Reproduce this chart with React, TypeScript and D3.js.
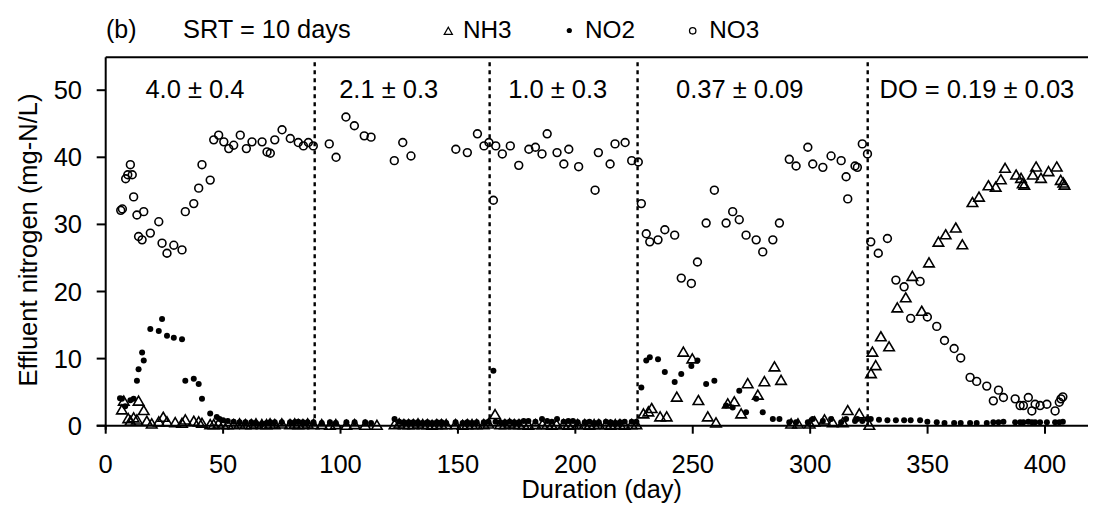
import React from "react";
import * as d3 from "d3";

type Pt = [number, number];

const xTicks = [0, 50, 100, 150, 200, 250, 300, 350, 400];
const yTicks = [0, 10, 20, 30, 40, 50];
const phaseBounds = [89, 163.5, 226.5, 324.5];
const phaseLabels = ["4.0 \u00b1 0.4", "2.1 \u00b1 0.3", "1.0 \u00b1 0.3", "0.37 \u00b1 0.09", "DO = 0.19 \u00b1 0.03"];
const phaseLabelDays = [38, 120.5, 192.5, 270, 371];
const legendNames = ["NH3", "NO2", "NO3"];

const no3Data: Pt[] = [
  [6.4, 32.1], [7.1, 32.3], [8.5, 36.8], [9.4, 37.4], [10.5, 38.9], [11.3, 37.4], [11.9, 34.1], [13.3, 31.4],
  [14.0, 28.2], [15.5, 27.7], [16.2, 31.9], [19.0, 28.7], [22.6, 30.4], [24.0, 27.2], [26.1, 25.7], [29.0, 26.9],
  [32.5, 26.2], [33.9, 31.9], [37.5, 33.1], [39.6, 35.4], [41.0, 38.9], [44.5, 36.6], [46.0, 42.6], [48.1, 43.3],
  [50.3, 42.3], [52.4, 41.3], [54.5, 41.8], [57.3, 43.3], [59.9, 41.3], [62.3, 42.3], [66.6, 42.3], [68.7, 40.8],
  [70.1, 40.6], [72.0, 42.6], [75.1, 44.1], [78.6, 42.8], [82.0, 42.2], [84.2, 41.7], [86.3, 42.2], [88.4, 41.7],
  [95.2, 42.0], [98.1, 40.0], [102.3, 46.0], [105.9, 44.7], [110.1, 43.2], [113.0, 43.0], [122.9, 39.5], [126.5, 42.2],
  [130.0, 40.2], [149.1, 41.2], [154.0, 40.7], [158.3, 43.5], [161.1, 41.7], [163.2, 42.2], [165.1, 33.6], [166.1, 41.7],
  [168.9, 40.5], [172.3, 41.7], [175.9, 38.8], [180.2, 41.2], [183.0, 41.5], [185.8, 40.5], [188.0, 43.5], [192.2, 40.7],
  [195.1, 39.0], [197.2, 41.2], [201.4, 38.6], [208.4, 35.1], [209.8, 40.7], [214.8, 39.0], [216.9, 42.0], [221.2, 42.2],
  [224.0, 39.5], [226.8, 39.3], [228.1, 33.1], [230.2, 28.6], [231.7, 27.4], [235.2, 27.7], [238.1, 29.2], [242.3, 28.4],
  [245.1, 22.0], [249.4, 21.2], [252.0, 24.4], [255.7, 30.2], [259.2, 35.1], [264.2, 30.2], [267.0, 31.9], [269.8, 30.7],
  [272.7, 28.4], [277.0, 27.7], [279.8, 25.9], [284.1, 27.7], [286.9, 30.2], [291.1, 39.7], [294.0, 38.7], [299.0, 41.5],
  [301.1, 39.0], [305.4, 38.5], [308.9, 40.2], [313.2, 39.5], [315.3, 37.1], [316.0, 33.8], [319.1, 38.7], [320.1, 38.5],
  [322.2, 42.0], [324.4, 40.5], [325.8, 27.4], [329.0, 25.7], [332.9, 27.9], [336.5, 21.7], [340.0, 20.7], [342.8, 16.0],
  [346.8, 21.5], [349.9, 16.2], [353.9, 14.8], [357.2, 12.7], [361.3, 11.5], [364.1, 10.1], [368.1, 7.2], [370.9, 6.6],
  [375.2, 5.9], [378.0, 3.7], [380.2, 5.3], [382.3, 4.2], [387.3, 4.0], [389.4, 3.0], [390.8, 3.0], [392.9, 4.2],
  [394.4, 2.2], [395.8, 3.2], [397.9, 3.0], [400.8, 3.2], [404.3, 2.2], [406.1, 3.5], [406.8, 4.0], [407.6, 4.3],
];

const no2Data: Pt[] = [
  [6.1, 4.1], [6.9, 4.0], [8.3, 2.9], [10.5, 3.8], [11.9, 4.0], [13.3, 6.7], [14.0, 8.4], [15.5, 10.9],
  [16.2, 9.7], [19.0, 14.4], [22.6, 14.1], [24.0, 15.9], [26.1, 13.4], [29.0, 13.1], [32.5, 12.9], [33.9, 6.7],
  [37.5, 7.0], [39.6, 6.2], [41.0, 4.0], [44.5, 1.8], [47.3, 1.3], [48.5, 1.0], [50.0, 0.8], [52.0, 0.7],
  [54.5, 0.6], [57.0, 0.5], [59.5, 0.5], [62.0, 0.5], [64.0, 0.4], [66.5, 0.3], [68.5, 0.4], [70.0, 0.5],
  [72.0, 0.5], [75.0, 0.5], [78.5, 0.5], [80.5, 0.5], [82.0, 0.6], [84.0, 0.5], [86.0, 0.5], [88.5, 0.5],
  [92.0, 0.4], [95.5, 0.5], [98.0, 0.4], [102.5, 0.5], [106.0, 0.5], [110.5, 0.5], [113.0, 0.4],
  [123.0, 1.0], [125.0, 0.6], [127.0, 0.5], [129.0, 0.5], [131.0, 0.5], [133.0, 0.5], [135.0, 0.4], [137.0, 0.5],
  [139.0, 0.4], [141.0, 0.5], [143.0, 0.5], [145.0, 0.4], [149.0, 0.5], [152.0, 0.4], [154.0, 0.5], [156.0, 0.4],
  [158.0, 0.5], [161.0, 0.5], [163.0, 0.6], [165.1, 8.2], [166.0, 0.6], [168.0, 0.5], [170.0, 0.5], [172.0, 0.6],
  [174.0, 0.5], [176.0, 0.5], [178.0, 0.7], [180.0, 0.7], [183.0, 0.6], [185.8, 1.0], [188.0, 0.7], [190.0, 0.6],
  [192.2, 1.0], [195.0, 0.6], [197.0, 0.7], [199.0, 0.7], [201.0, 0.5], [204.0, 0.5], [206.0, 0.6], [208.0, 0.4],
  [210.0, 0.5], [213.0, 0.6], [215.0, 0.5], [217.0, 0.4], [219.0, 0.5], [221.0, 0.6], [224.0, 0.6], [226.0, 0.6],
  [228.1, 5.7], [230.2, 9.7], [231.7, 10.2], [235.2, 9.9], [238.1, 8.0], [242.3, 6.5], [245.1, 7.7], [249.4, 8.9],
  [252.0, 9.7], [255.7, 6.2], [259.2, 6.7], [264.2, 3.0], [267.0, 2.7], [269.8, 5.2], [272.7, 2.0], [277.0, 4.0],
  [279.8, 2.0], [284.1, 1.0], [286.9, 1.0], [291.1, 0.5], [294.0, 0.5], [299.0, 0.5], [301.1, 1.0], [305.4, 0.7],
  [308.9, 1.0], [313.2, 0.5], [315.3, 1.0], [319.1, 0.7], [320.1, 1.0], [322.2, 0.7], [324.4, 1.0], [325.8, 1.0],
  [329.3, 0.9], [332.9, 0.8], [336.5, 0.8], [340.0, 0.8], [342.8, 0.8], [346.8, 0.8], [349.9, 0.6], [353.9, 0.5],
  [357.2, 0.4], [361.3, 0.4], [364.1, 0.4], [368.1, 0.4], [370.9, 0.4], [375.2, 0.4], [378.0, 0.5], [380.2, 0.5],
  [382.3, 0.6], [387.3, 0.5], [389.4, 0.5], [390.8, 0.5], [392.9, 0.6], [394.4, 0.5], [395.8, 0.5], [397.9, 0.5],
  [400.8, 0.5], [404.3, 0.5], [406.1, 0.5], [407.6, 0.6],
];

const nh3Data: Pt[] = [
  [6.9, 2.3], [7.7, 3.6], [9.6, 1.0], [10.5, 0.6], [11.9, 1.1], [13.3, 0.8], [14.0, 3.6], [16.2, 2.2],
  [17.5, 0.6], [19.6, 0.2], [22.6, 0.5], [24.5, 1.2], [26.1, 0.5], [29.6, 0.4], [32.5, 0.3], [33.9, 0.8],
  [37.5, 0.6], [39.6, 0.5], [41.0, 0.3], [44.5, 0.1], [46.0, 0.1], [48.0, 0.2], [50.0, 0.1], [52.0, 0.1],
  [54.5, 0.1], [57.0, 0.2], [59.5, 0.1], [62.0, 0.1], [64.0, 0.2], [66.5, 0.1], [68.5, 0.1], [70.0, 0.2],
  [72.0, 0.1], [75.0, 0.2], [78.5, 0.1], [80.5, 0.2], [82.0, 0.1], [84.0, 0.1], [86.0, 0.2], [88.5, 0.1],
  [92.0, 0.1], [95.5, 0.0], [98.0, 0.1], [102.5, 0.0], [106.0, 0.1], [110.5, 0.0], [115.5, 0.0],
  [123.0, 0.1], [125.0, 0.2], [127.0, 0.1], [129.0, 0.1], [131.0, 0.1], [133.0, 0.2], [135.0, 0.1], [137.0, 0.1],
  [139.0, 0.0], [141.0, 0.1], [143.0, 0.1], [145.0, 0.1], [149.0, 0.1], [152.0, 0.0], [154.0, 0.1], [156.0, 0.1],
  [158.0, 0.1], [161.0, 0.1], [163.0, 0.2], [165.8, 1.6], [168.0, 0.1], [170.0, 0.1], [172.0, 0.2], [174.0, 0.1],
  [176.0, 0.1], [178.0, 0.1], [180.0, 0.0], [183.0, 0.1], [186.0, 0.1], [188.0, 0.1], [190.0, 0.0], [192.0, 0.1],
  [195.0, 0.1], [197.0, 0.0], [199.0, 0.1], [201.0, 0.1], [204.0, 0.1], [206.0, 0.0], [208.0, 0.1], [210.0, 0.1],
  [213.0, 0.1], [215.0, 0.0], [217.0, 0.1], [219.0, 0.1], [221.0, 0.0], [224.0, 0.1], [226.0, 0.1],
  [229.0, 1.7], [231.1, 2.0], [232.5, 2.5], [236.1, 1.25], [238.9, 1.25], [243.2, 4.2], [246.0, 10.9], [249.8, 9.9],
  [252.4, 3.7], [256.4, 1.25], [259.9, 0.35], [264.9, 3.2], [267.7, 3.5], [270.6, 1.7], [273.4, 6.2], [277.7, 4.5],
  [280.5, 6.5], [284.8, 8.7], [287.6, 6.7], [291.9, 0.2], [294.8, 0.2], [299.8, 0.2], [301.9, 0.5], [306.1, 0.8],
  [309.6, 0.4], [313.9, 0.4], [316.0, 2.2], [320.9, 1.7], [325.2, 0.0], [325.9, 7.7], [326.5, 10.9], [327.9, 8.9],
  [330.1, 13.2], [333.6, 11.7], [337.1, 17.5], [340.7, 19.0], [343.5, 22.2], [347.5, 17.0], [350.6, 24.2], [354.6, 27.3],
  [357.7, 28.4], [362.0, 29.4], [364.8, 26.9], [369.1, 33.2], [371.9, 34.0], [375.9, 35.7], [379.0, 35.5], [381.2, 36.6],
  [383.0, 38.3], [387.7, 37.3], [389.8, 36.8], [390.5, 36.0], [391.2, 35.8], [394.8, 37.3], [396.2, 38.5], [398.3, 36.8],
  [401.5, 37.8], [405.0, 38.5], [406.7, 36.5], [407.8, 36.1], [408.3, 35.8],
];

const W = 1096;
const H = 508;
const X0 = 105.7;
const Y0 = 425.7;
const TOP = 57.3;

const FONT = "'Liberation Sans', Arial, Helvetica, sans-serif";

const tri = (cx: number, cy: number, w: number, h: number) => {
  const top = cy - h * 0.6;
  const bot = cy + h * 0.4;
  return `M${cx},${top}L${cx + w / 2},${bot}L${cx - w / 2},${bot}Z`;
};

export default function App() {
  const x = d3.scaleLinear().domain([0, 400]).range([X0, 1045]);
  const y = d3.scaleLinear().domain([0, 50]).range([Y0, 90.2]);

  return (
    <svg width={W} height={H} style={{ display: "block", background: "#fff", marginTop: -8, marginLeft: -8 }}>
      <g fontFamily={FONT} fill="#000">
        {/* title */}
        <text x={106} y={37.5} fontSize={25}>(b)</text>
        <text x={183} y={37.5} fontSize={25.4}>SRT = 10 days</text>
        {/* legend */}
        <path d={tri(448.3, 31.5, 8, 7)} fill="none" stroke="#000" strokeWidth={1.3} />
        <text x={463} y={38.3} fontSize={24.3}>{legendNames[0]}</text>
        <circle cx={569.3} cy={30.5} r={2.6} fill="#000" />
        <text x={585} y={38.3} fontSize={24.3}>{legendNames[1]}</text>
        <circle cx={692.7} cy={30.8} r={3.2} fill="none" stroke="#000" strokeWidth={1.3} />
        <text x={709.3} y={38.3} fontSize={24.3}>{legendNames[2]}</text>

        {/* phase dividers */}
        {phaseBounds.map((d, i) => (
          <line key={"pb" + i} x1={x(d)} x2={x(d)} y1={TOP + 5} y2={Y0} stroke="#000" strokeWidth={2.4} strokeDasharray="4,4" />
        ))}
        {phaseLabels.map((t, i) => (
          <text key={"pl" + i} x={x(phaseLabelDays[i])} y={98.3} fontSize={25.5} textAnchor="middle">{t}</text>
        ))}

        {/* data: NO3 circles */}
        {no3Data.map((p, i) => (
          <circle key={"c" + i} cx={x(p[0])} cy={y(p[1])} r={3.9} fill="none" stroke="#000" strokeWidth={1.6} />
        ))}
        {/* NH3 triangles */}
        {nh3Data.map((p, i) => (
          <path key={"t" + i} d={tri(x(p[0]), y(p[1]), 10.5, 9)} fill="none" stroke="#000" strokeWidth={1.6} strokeLinejoin="miter" />
        ))}
        {/* NO2 dots */}
        {no2Data.map((p, i) => (
          <circle key={"d" + i} cx={x(p[0])} cy={y(p[1])} r={3} fill="#000" />
        ))}

        {/* axes */}
        <line x1={X0} x2={W} y1={TOP} y2={TOP} stroke="#000" strokeWidth={2} />
        <line x1={X0} x2={X0} y1={TOP} y2={Y0 + 4} stroke="#000" strokeWidth={2} />
        <line x1={X0 - 9} x2={W} y1={Y0} y2={Y0} stroke="#000" strokeWidth={2} />
        {xTicks.map((t) => (
          <g key={"xt" + t}>
            <line x1={x(t)} x2={x(t)} y1={Y0} y2={Y0 + 8} stroke="#000" strokeWidth={2} />
            <text x={x(t)} y={473.3} fontSize={25.5} textAnchor="middle">{t}</text>
          </g>
        ))}
        {yTicks.map((t) => (
          <g key={"yt" + t}>
            <line x1={X0 - 9} x2={X0} y1={y(t)} y2={y(t)} stroke="#000" strokeWidth={2} />
            <text x={82} y={y(t) + 9} fontSize={25.5} textAnchor="end">{t}</text>
          </g>
        ))}
        <text x={601.7} y={498} fontSize={25.3} textAnchor="middle">Duration (day)</text>
        <text transform="translate(37,240) rotate(-90)" fontSize={25.5} textAnchor="middle">Effluent nitrogen (mg-N/L)</text>
      </g>
    </svg>
  );
}
